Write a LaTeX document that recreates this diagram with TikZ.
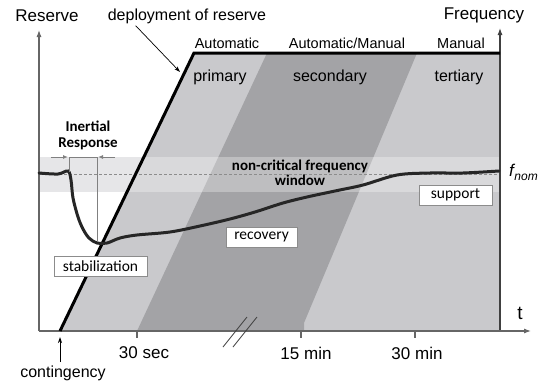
\documentclass[tikz,border=0pt]{standalone}
\usepackage{fontspec}
\setmainfont{Liberation Sans}
\newfontfamily\calfont{Carlito}
\usetikzlibrary{arrows.meta}
\definecolor{lightg}{HTML}{C9C9CC}
\definecolor{darkg}{HTML}{A3A3A6}
\definecolor{winband}{HTML}{E6E6E8}
\begin{document}
\begin{tikzpicture}[x=1pt,y=-1pt,
  lbl/.style={inner sep=0pt, anchor=center},
  fs/.style={font=\fontsize{#1}{#1}\selectfont},
  box/.style={draw=black!45, fill=white, line width=0.8pt, inner sep=0pt,
    minimum height=20pt, font=\calfont\fontsize{15.5}{17}\selectfont},
  axisline/.style={draw=black!60, line width=1.1pt},
  axtip/.style={-{Latex[length=7pt,width=5pt]}},
  irline/.style={draw=black!50, line width=1pt},
  irtip/.style={-{Latex[length=5pt,width=4pt]}},
  bold/.style={font=\calfont\bfseries\fontsize{#1}{#1}\selectfont}
]
\useasboundingbox (0,0) rectangle (538,388);

% non-critical window band
\fill[winband] (39,157) rectangle (500,192);
% regions
\fill[lightg] (60,331) -- (194,53) -- (500,53) -- (500,331) -- cycle;
\fill[darkg] (137,331) -- (267,53) -- (417,53) -- (304,323) -- (304,331) -- cycle;
\begin{scope}
  \clip (60,331) -- (194,53) -- (500,53) -- (500,331) -- cycle;
  \fill[white, opacity=0.3] (39,157) rectangle (500,192);
\end{scope}
\draw[black!45, dash pattern=on 3pt off 2pt, line width=0.6pt] (39,174) -- (500,174);

% axes
\coordinate (o) at (39,331);
\coordinate (ytop) at (39,30);
\coordinate (br) at (500,331);
\coordinate (ytop2) at (500,28);
\coordinate (xend) at (531,331);
\draw[axisline, axtip] (o) -- (ytop);
\draw[axisline, draw=black!75, axtip] (br) -- (ytop2);
\draw[axisline, axtip] (o) -- (xend);

% ticks
\draw[axisline] (137,331) -- (137,338);
\draw[axisline] (301,331) -- (301,338);
\draw[axisline] (415,331) -- (415,338);
% break marks
\draw[black!75, line width=0.8pt] (223,347) -- (247,317);
\draw[black!75, line width=0.8pt] (233,347) -- (257,317);

% deployment line
\coordinate (cont) at (60,331);
\coordinate (corner) at (194,53);
\coordinate (topend) at (500,53);
\draw[line width=3pt, line join=miter] (cont) -- (corner) -- (topend);

% frequency curve
\draw[line width=3pt, black!85, line cap=round] plot[smooth, tension=0.55] coordinates {
 (39,173) (58,174) (68,171) (71,180) (73,198) (78,217) (83,229) (89,238) (97,243)
 (107,243) (120,238) (137,235) (170,232) (200,226) (230,219) (255,212) (283,203)
 (307,197) (335,191) (363,185) (397,175) (430,173) (463,173) (499,171)};

% inertial response
\draw[irline] (69,172) -- (69,157) -- (97,157) -- (97,242);
\coordinate (irl) at (51,157);
\coordinate (irlt) at (68,157);
\coordinate (irr) at (115,157);
\coordinate (irrt) at (98,157);
\draw[irline, irtip] (irl) -- (irlt);
\draw[irline, irtip] (irr) -- (irrt);

% texts
\node[lbl, fs=17] (reserve) at (47,16) {Reserve};
\node[lbl, fs=16] (deploy) at (187,16) {deployment of reserve};
\node[lbl, fs=17] (freq) at (484,15) {Frequency};
\node[lbl, fs=14.5] (auto) at (227,43) {Automatic};
\node[lbl, fs=14.5] (automan) at (347,43) {Automatic/Manual};
\node[lbl, fs=14.5] (manual) at (461,43) {Manual};
\node[lbl, fs=16] (primary) at (220,77) {primary};
\node[lbl, fs=16] (secondary) at (330,77) {secondary};
\node[lbl, fs=16] (tertiary) at (459,77) {tertiary};
\node[lbl, bold=15, align=center] (inertial) at (88,135.5) {Inertial\\[1pt]Response};
\node[lbl, bold=15, align=center] (window) at (300,173) {non-critical frequency\\[0pt]window};
\node[lbl, anchor=west] (fnom) at (509,172) {\fontsize{17}{17}\selectfont\itshape f\kern0.5pt\raisebox{-4pt}{\fontsize{12}{12}\selectfont nom}};
\node[lbl, fs=19] (t) at (520,313) {t};
\node[lbl, fs=17] (s30) at (144,353) {30 sec};
\node[lbl, fs=17] (m15) at (306,353) {15 min};
\node[lbl, fs=17] (m30) at (417,353) {30 min};
\node[lbl, fs=16] (contingency) at (63,373) {contingency};

% boxes
\node[box, minimum width=93pt] (stab) at (100.5,266.5) {stabilization};
\node[box, minimum width=71pt] (recov) at (261.5,237) {recovery};
\node[box, minimum width=73pt] (support) at (455.5,195) {support};

% annotation arrows
\coordinate (deptip) at (180,72);
\draw[black, line width=0.7pt, -{Stealth[length=6pt,width=4pt]}] (deploy.south west) ++(28,2) -- (deptip);
\coordinate (conttip) at (60,337);
\draw[black, line width=0.8pt, -{Stealth[length=6pt,width=4pt]}] (60,362) -- (conttip);
\end{tikzpicture}
\end{document}
